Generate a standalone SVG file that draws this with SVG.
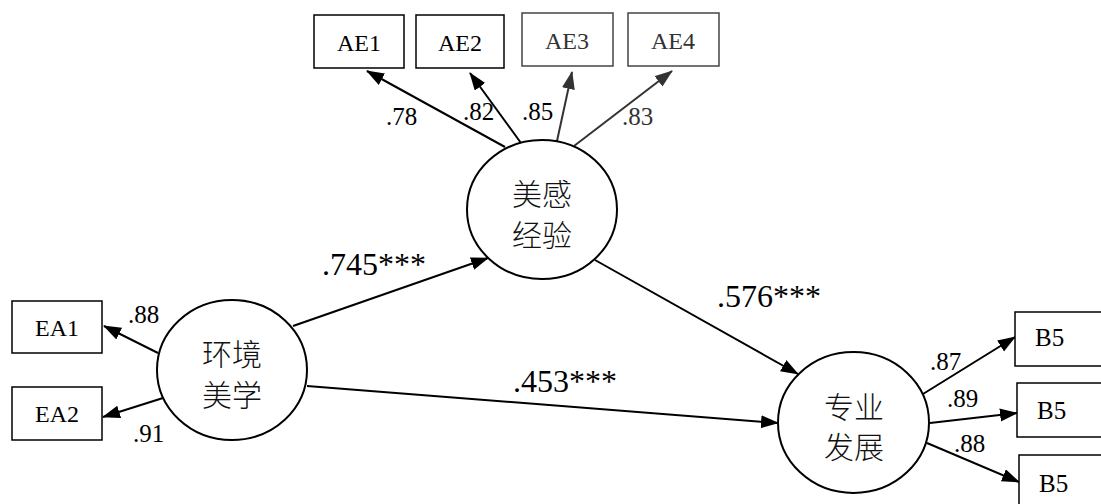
<svg xmlns="http://www.w3.org/2000/svg" width="1101" height="504" viewBox="0 0 1101 504">
<style>
.box{fill:#fff;stroke:#000;stroke-width:1.5}
.box.g{stroke:#444}
.lv{fill:#fff;stroke:#000;stroke-width:2}
.t{font-family:"Liberation Serif","Times New Roman",serif;fill:#000}
.g2{fill:#333}
.cjk{font-family:"Noto Sans CJK SC","Noto Sans CJK JP",sans-serif;font-size:30px;fill:#111;font-weight:300}
.ln{stroke:#000;stroke-width:2;fill:none;marker-end:url(#ah)}
.ln.g{stroke:#333;marker-end:url(#ahg)}
</style>
<defs>
<marker id="ah" markerUnits="userSpaceOnUse" markerWidth="20" markerHeight="14" refX="17" refY="6.5" orient="auto">
<path d="M0,0 L18,6.5 L0,13 z" fill="#000"/>
</marker>
<marker id="ahg" markerUnits="userSpaceOnUse" markerWidth="20" markerHeight="14" refX="17" refY="6.5" orient="auto">
<path d="M0,0 L18,6.5 L0,13 z" fill="#333"/>
</marker>
</defs>
<rect width="1101" height="504" fill="#fff"/>

<g id="connectors">
<line class="ln" x1="505" y1="147" x2="367" y2="71"/>
<line class="ln" x1="521" y1="143" x2="470" y2="73"/>
<line class="ln g" x1="557" y1="141" x2="572" y2="72"/>
<line class="ln g" x1="574" y1="146" x2="672" y2="71"/>
<line class="ln" x1="158" y1="353" x2="104" y2="326"/>
<line class="ln" x1="163" y1="398" x2="103" y2="417"/>
<line class="ln" x1="293" y1="326" x2="488" y2="258"/>
<line class="ln" x1="595" y1="260" x2="798" y2="374"/>
<line class="ln" x1="307" y1="386" x2="778" y2="423"/>
<line class="ln" x1="923" y1="394" x2="1015" y2="337"/>
<line class="ln" x1="930" y1="423" x2="1017" y2="413"/>
<line class="ln" x1="927" y1="443" x2="1019" y2="482"/>
<g class="t" font-size="25">
<text x="386" y="125">.78</text>
<text x="463" y="120">.82</text>
<text x="522" y="120">.85</text>
<text x="622" y="125" class="g2">.83</text>
<text x="128" y="323">.88</text>
<text x="133" y="442">.91</text>
<text x="930" y="370">.87</text>
<text x="947" y="407">.89</text>
<text x="954" y="452">.88</text>
</g>
<g class="t" font-size="32">
<text x="322" y="275">.745***</text>
<text x="717" y="307">.576***</text>
<text x="513" y="392">.453***</text>
</g>
</g>

<g id="AE1"><rect class="box" x="314" y="15" width="90" height="53"/><text class="t" font-size="24" x="359" y="51" text-anchor="middle">AE1</text></g>
<g id="AE2"><rect class="box" x="416" y="15" width="88" height="53"/><text class="t" font-size="24" x="460" y="51" text-anchor="middle">AE2</text></g>
<g id="AE3"><rect class="box g" x="522" y="13" width="91" height="53"/><text class="t g2" font-size="24" x="567" y="49" text-anchor="middle">AE3</text></g>
<g id="AE4"><rect class="box g" x="628" y="13" width="91" height="53"/><text class="t g2" font-size="24" x="673" y="49" text-anchor="middle">AE4</text></g>

<g id="EA1"><rect class="box" x="12" y="301" width="90" height="52"/><text class="t" font-size="24" x="57" y="336" text-anchor="middle">EA1</text></g>
<g id="EA2"><rect class="box" x="12" y="387" width="90" height="53"/><text class="t" font-size="24" x="57" y="422" text-anchor="middle">EA2</text></g>

<g id="B5a"><rect class="box" x="1015" y="312" width="100" height="54"/><text class="t" font-size="25" x="1035" y="346">B5</text></g>
<g id="B5b"><rect class="box" x="1017" y="383" width="100" height="54"/><text class="t" font-size="25" x="1037" y="419">B5</text></g>
<g id="B5c"><rect class="box" x="1019" y="455" width="100" height="60"/><text class="t" font-size="25" x="1039" y="492">B5</text></g>

<g id="meigan"><ellipse class="lv" cx="542" cy="209.5" rx="75" ry="69.5"/>
<text class="cjk" x="542" y="205" text-anchor="middle">美感</text>
<text class="cjk" x="542" y="246" text-anchor="middle">经验</text></g>

<g id="huanjing"><ellipse class="lv" cx="232" cy="370" rx="75" ry="70"/>
<text class="cjk" x="232" y="365" text-anchor="middle">环境</text>
<text class="cjk" x="232" y="406" text-anchor="middle">美学</text></g>

<g id="zhuanye"><ellipse class="lv" cx="853.5" cy="422.5" rx="75.5" ry="70.5"/>
<text class="cjk" x="854" y="418" text-anchor="middle">专业</text>
<text class="cjk" x="854" y="458" text-anchor="middle">发展</text></g>
</svg>
